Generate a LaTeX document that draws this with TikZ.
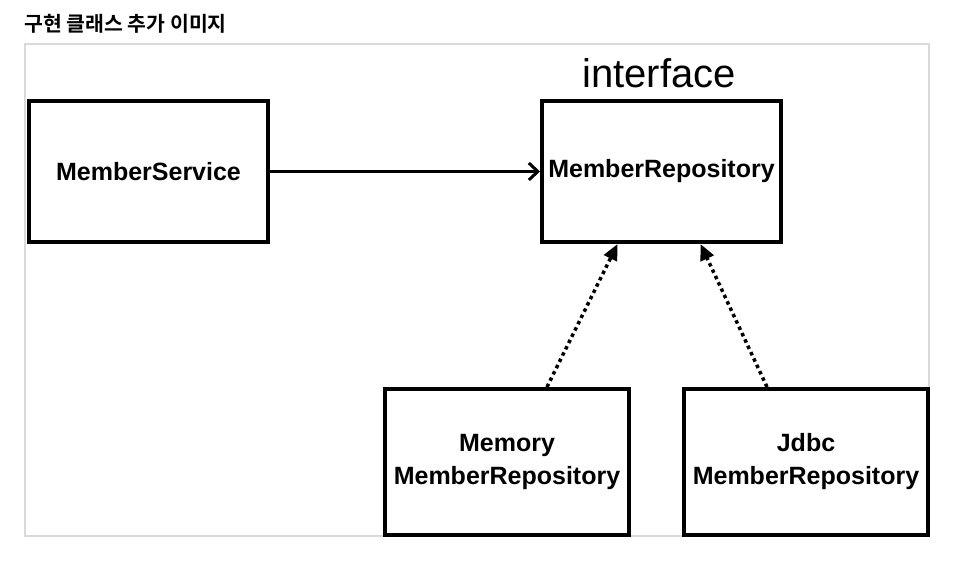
\documentclass[tikz,border=0pt]{standalone}
\usepackage{fontspec}
\setmainfont{Liberation Sans}
\newfontfamily\krfont{Noto Sans CJK KR}[BoldFont={* Bold}]
\usetikzlibrary{arrows.meta}

\definecolor{framegray}{HTML}{D9D9D9}

\tikzset{
  classbox/.style={draw, line width=4pt, minimum width=239pt, minimum height=141pt,
    inner sep=0pt, align=center, font=\fontsize{25}{33}\selectfont\bfseries},
  implbox/.style={classbox, minimum width=244pt, minimum height=146pt},
  usesarrow/.style={line width=3pt, -{Straight Barb[length=9pt,width=17pt,line width=3pt]}},
  implarrow/.style={line width=3.5pt, dash pattern=on 3.5pt off 3.5pt,
    -{Triangle[length=16pt,width=14pt]}}
}

\begin{document}
\begin{tikzpicture}[x=1pt,y=-1pt]
    \useasboundingbox (0,0) rectangle (959,563);
    % Title and frame
    \node[anchor=west, inner sep=0pt, font=\krfont\bfseries\fontsize{20.5}{24}\selectfont] (title) at (24,24) {구현 클래스 추가 이미지};
    \draw[framegray, line width=2pt] (25,44) rectangle (929,536);
    % Classes
    \node[classbox] (service) at (148.5,171.5) {MemberService};
    \node[classbox] (repo) at (661.5,171.5) {MemberRepository};
    \node[inner sep=0pt, font=\fontsize{40}{44}\selectfont] (iface) at (659,73) {interface};
    % Implementations
    \node[implbox] (memory) at (507,462) {Memory\\MemberRepository};
    \node[implbox] (jdbc) at (806,462) {Jdbc\\MemberRepository};
    % Dependency
    \draw[usesarrow] (service) -- (repo);
    % Realisation
    \draw[implarrow] ([xshift=40pt]memory.north) -- ([xshift=-44pt]repo.south);
    \draw[implarrow] ([xshift=-39pt]jdbc.north) -- ([xshift=39pt]repo.south);
\end{tikzpicture}
\end{document}
